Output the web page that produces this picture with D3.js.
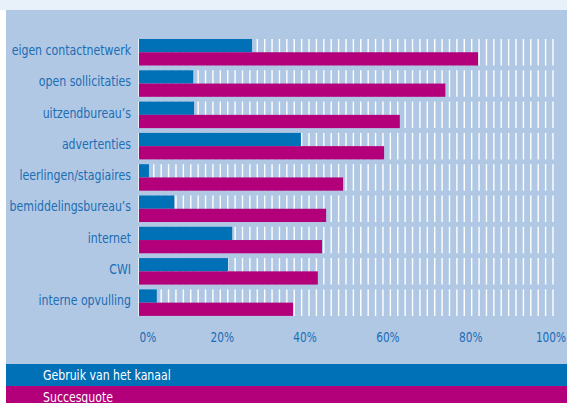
<!DOCTYPE html>
<html>
<head>
<meta charset="utf-8">
<script src="https://cdn.jsdelivr.net/npm/d3@7/dist/d3.min.js"></script>
<style>
  html, body { margin: 0; padding: 0; background: #ffffff; }
  svg { display: block; }
  text { font-family: "DejaVu Sans Condensed", "Liberation Sans Narrow", sans-serif; }
</style>
</head>
<body>
<svg id="chart" width="567" height="403"></svg>
<script>
// Wervingskanalen: gebruik (%) en succesquote (%)
const categories = [
  "eigen contactnetwerk",
  "open sollicitaties",
  "uitzendbureau\u2019s",
  "advertenties",
  "leerlingen/stagiaires",
  "bemiddelingsbureau\u2019s",
  "internet",
  "CWI",
  "interne opvulling"
];
const gebruik = [27.3, 13.1, 13.3, 39.1, 2.4, 8.5, 22.5, 21.5, 4.3];
const succesquote = [81.9, 74.0, 63.0, 59.2, 49.3, 45.2, 44.2, 43.2, 37.2];
const tickValues = [0, 20, 40, 60, 80, 100];
const seriesNames = ["Gebruik van het kanaal", "Succesquote"];

const W = 567, H = 403;
const colBlue = "#0070b7";
const colMagenta = "#b3007a";
const colPanel = "#b0c8e4";
const colLabel = "#1b6db4";
const narrow = 0.87; // horizontal squeeze for the condensed lettering

const svg = d3.select("#chart");

// background: pale strip on top, blue-grey panel below
svg.append("rect").attr("x", 0).attr("y", 0).attr("width", W).attr("height", 10).attr("fill", "#e8f0f9");
svg.append("rect").attr("x", 6).attr("y", 10).attr("width", W - 6).attr("height", 354).attr("fill", colPanel);

const x = d3.scaleLinear().domain([0, 100]).range([139, 553]);
const y = d3.scaleBand().domain(categories).range([39, 315.9]).paddingInner(0.153).paddingOuter(0);
const half = y.bandwidth() / 2;

// vertical hatch lines behind each row
const gridVals = d3.range(0, 57).map(i => i * 100 / 56);
const rows = svg.append("g").selectAll("g").data(categories).join("g")
  .attr("transform", d => `translate(0,${y(d)})`);
rows.selectAll("line").data(gridVals).join("line")
  .attr("x1", d => x(d)).attr("x2", d => x(d))
  .attr("y1", 0).attr("y2", y.bandwidth())
  .attr("stroke", "#ffffff").attr("stroke-width", 1.4);

// bars
rows.append("rect")
  .attr("x", x(0)).attr("y", 0)
  .attr("width", (d, i) => x(gebruik[i]) - x(0))
  .attr("height", half)
  .attr("fill", colBlue);
rows.append("rect")
  .attr("x", x(0)).attr("y", half)
  .attr("width", (d, i) => x(succesquote[i]) - x(0))
  .attr("height", half)
  .attr("fill", colMagenta);

// category labels
rows.append("text")
  .attr("transform", `translate(131,16) scale(${narrow},1)`)
  .attr("text-anchor", "end")
  .attr("font-size", 14)
  .attr("fill", colLabel)
  .text(d => d);

// x axis labels
const axis = d3.axisBottom(x).tickValues(tickValues).tickFormat(d => d + "%").tickSize(0).tickPadding(0);
const gAxis = svg.append("g").attr("transform", "translate(0,330)").call(axis);
gAxis.select(".domain").remove();
gAxis.selectAll("text")
  .attr("font-size", 14)
  .attr("fill", colLabel)
  .attr("y", 0)
  .attr("dy", "0.85em")
  .attr("transform", `scale(0.84,1)`)
  .style("font-family", "\"DejaVu Sans Condensed\", sans-serif");
gAxis.selectAll(".tick").filter(d => d === 0).select("text").attr("text-anchor", "start");
gAxis.selectAll(".tick").filter(d => d === 100).select("text")
  .attr("text-anchor", "end").attr("x", 15);

// legend bands
const legend = svg.append("g");
const bands = [{ y: 364, h: 22, c: colBlue }, { y: 386, h: 20, c: colMagenta }];
legend.selectAll("rect").data(bands).join("rect")
  .attr("x", 6).attr("y", d => d.y).attr("width", W - 6).attr("height", d => d.h)
  .attr("fill", d => d.c);
legend.selectAll("text").data(seriesNames).join("text")
  .attr("transform", (d, i) => `translate(43,${i === 0 ? 379.5 : 401.5}) scale(${narrow},1)`)
  .attr("font-size", 14)
  .attr("fill", "#ffffff")
  .text(d => d);
</script>
</body>
</html>
